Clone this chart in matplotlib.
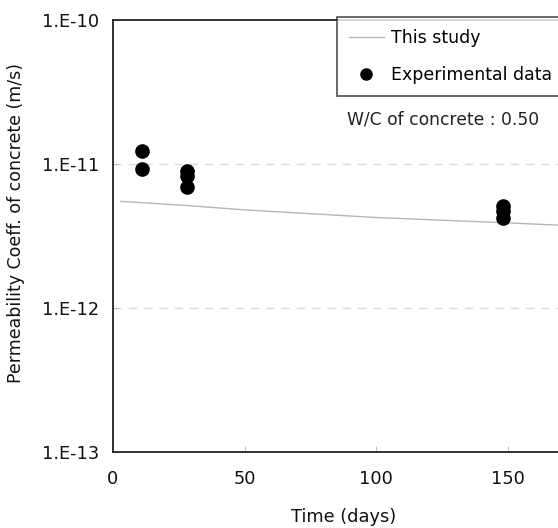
import matplotlib
matplotlib.use("Agg")
import matplotlib.pyplot as plt
from matplotlib.lines import Line2D

# Data
exp_days = [11, 11, 28, 28, 28, 148, 148, 148]
exp_perm = [1.23e-11, 9.3e-12, 9.0e-12, 8.3e-12, 6.9e-12, 5.1e-12, 4.75e-12, 4.25e-12]

model_days = [3, 28, 50, 100, 150, 175]
model_perm = [5.5e-12, 5.15e-12, 4.8e-12, 4.25e-12, 3.9e-12, 3.72e-12]

xticks = [0, 50, 100, 150]
yticks = [1e-13, 1e-12, 1e-11, 1e-10]
ytick_labels = ["1.E-13", "1.E-12", "1.E-11", "1.E-10"]

W, H = 558, 528
fig = plt.figure(figsize=(W / 100, H / 100), dpi=100)
left, right, top, bottom = 113, 574, 20, 452
ax = fig.add_axes([left / W, (H - bottom) / H, (right - left) / W, (bottom - top) / H])

ax.set_yscale("log")
ax.set_xlim(0, 175)
ax.set_ylim(1e-13, 1e-10)

for y in [1e-12, 1e-11]:
    ax.axhline(y, color="#d9d9d9", lw=1.0, ls=(0, (6, 5)), zorder=0)

ax.plot(model_days, model_perm, color="#b5b5b5", lw=1.0, zorder=2)
ax.plot(exp_days, exp_perm, "o", color="black", ms=9.5, zorder=3)

ax.set_xticks(xticks)
ax.set_xticklabels([str(t) for t in xticks])
ax.set_yticks(yticks)
ax.set_yticklabels(ytick_labels)
ax.minorticks_off()
ax.tick_params(axis="both", direction="in", length=4, color="#c0c0c0",
               labelsize=12.8, labelcolor="#111111")
ax.tick_params(axis="x", pad=13)
ax.tick_params(axis="y", pad=10)

for s in ax.spines.values():
    s.set_linewidth(1.3)
    s.set_color("#222222")

ax.set_xlabel("Time (days)", fontsize=12.8, labelpad=14, color="#111111")
ax.set_ylabel("Permeability Coeff. of concrete (m/s)", fontsize=12.5, labelpad=12,
              color="#111111")
ax.yaxis.set_label_coords(-0.19, 0.53)

handles = [
    Line2D([], [], color="#b5b5b5", lw=1.0),
    Line2D([], [], marker="o", ls="none", color="black", ms=8),
]
leg = fig.legend(handles, ["This study", "Experimental data"],
                 loc="upper left", bbox_to_anchor=(337 / W, 1 - 17 / H),
                 fontsize=12.5, frameon=True, fancybox=False, edgecolor="#222222",
                 handlelength=2.0, handletextpad=0.45, labelspacing=1.1,
                 borderpad=0.68, borderaxespad=0)
leg.get_frame().set_linewidth(1.2)

fig.text(347 / W, 1 - 120 / H, "W/C of concrete : 0.50", fontsize=12.3,
         color="#222222", va="center", ha="left")

fig.savefig("out.png", dpi=100)
